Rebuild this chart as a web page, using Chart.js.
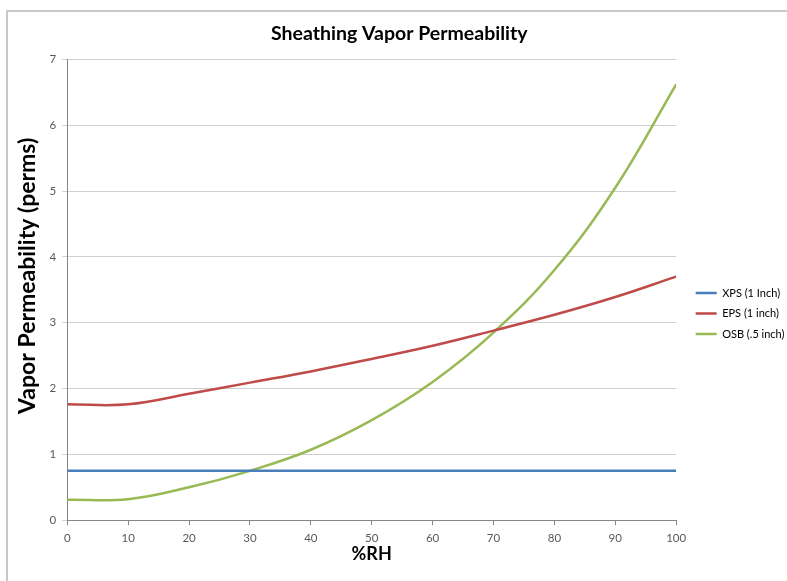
<!DOCTYPE html>
<html><head><meta charset="utf-8">
<script src="https://cdn.jsdelivr.net/npm/chart.js@4/dist/chart.umd.min.js"></script>
<style>
html,body{margin:0;padding:0;background:#fff;}
#wrap{position:relative;width:787px;height:581px;}
#frame{position:absolute;left:6px;top:10px;right:0;bottom:0;border-top:2px solid #c8c8c8;border-left:2px solid #c8c8c8;}
canvas{position:absolute;left:0;top:0;}
</style></head>
<body><div id="wrap"><div id="frame"></div><canvas id="c" width="787" height="581"></canvas></div>
<script>
const rh = [0,10,20,30,40,50,60,70,80,90,100];
const xps = [0.75,0.75,0.75,0.75,0.75,0.75,0.75,0.75,0.75,0.75,0.75];
const eps = [1.76,1.76,1.92,2.09,2.26,2.45,2.65,2.88,3.12,3.39,3.70];
const osb = [0.31,0.32,0.50,0.75,1.07,1.52,2.10,2.85,3.80,5.05,6.62];
const seriesNames = ['XPS (1 Inch)','EPS (1 inch)','OSB (.5 inch)'];
const colors = ['#4a7ebb','#be4b48','#98b954'];
const toPts = v => v.map((y,i)=>({x:rh[i],y}));
Chart.defaults.font.family = 'Lato, "Open Sans", sans-serif';
Chart.defaults.color = '#595959';
const legendShift = {id:'legendShift', afterLayout(chart){ const l = chart.legend; if(l){ l.left += 10; l.right += 10; } }};
new Chart(document.getElementById('c'),{
  type:'line',
  data:{datasets:[xps,eps,osb].map((v,i)=>({
    label:seriesNames[i],data:toPts(v),borderColor:colors[i],backgroundColor:colors[i],
    borderWidth:2.5,pointRadius:0,tension:0.4,fill:false
  }))},
  plugins:[legendShift],
  options:{
    responsive:false,animation:false,
    layout:{padding:{left:14,top:12,right:2.5,bottom:18}},
    plugins:{
      title:{display:true,text:'Sheathing Vapor Permeability',color:'#000',font:{size:19.5,weight:'bold'},padding:{top:10,bottom:14}},
      legend:{position:'right',align:'center',
        title:{display:true,text:' ',font:{size:10},padding:{top:20,bottom:20}},
        labels:{usePointStyle:true,pointStyle:'line',pointStyleWidth:21,color:'#000',font:{size:11},padding:9.5}},
      tooltip:{enabled:false}
    },
    scales:{
      x:{type:'linear',min:0,max:100,
        ticks:{stepSize:10,font:{size:11.5},color:'#595959',padding:6},
        grid:{display:true,drawOnChartArea:false,tickLength:5,color:'#868686'},
        border:{color:'#868686'},
        title:{display:true,text:'%RH',color:'#000',font:{size:18,weight:'bold',lineHeight:1},padding:{top:-6,bottom:0}}},
      y:{min:0,max:7,
        ticks:{stepSize:1,font:{size:11.5},color:'#595959',padding:6},
        grid:{color:'#d0d0d0',tickLength:5},
        border:{color:'#868686'},
        title:{display:true,text:'     Vapor Permeability (perms)',color:'#000',font:{size:23,weight:'bold'},padding:{top:0,bottom:2}}}
    }
  }
});
</script></body></html>
